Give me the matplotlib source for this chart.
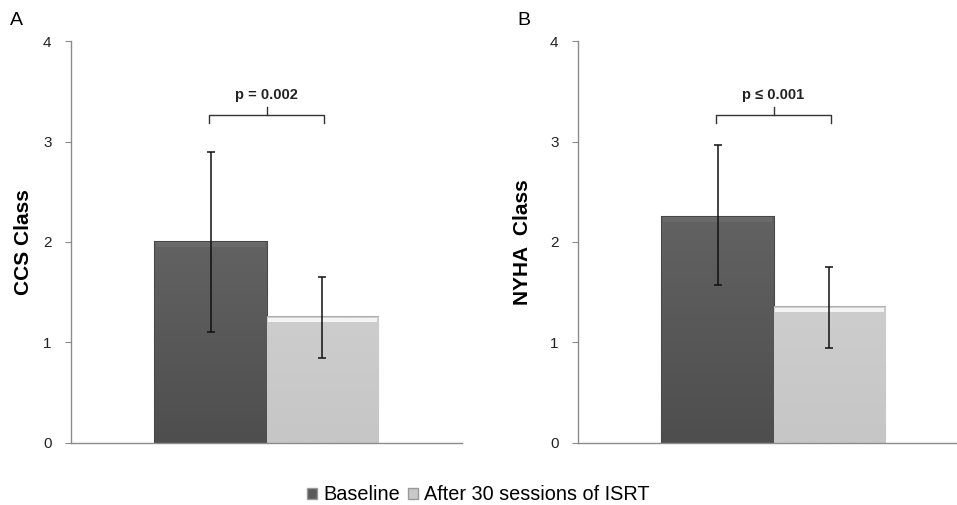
import matplotlib

matplotlib.use("Agg")
import matplotlib.pyplot as plt
import numpy as np
from matplotlib.patches import Patch

# data
groups = ["Baseline", "After 30 sessions of ISRT"]
ccs_mean = [2.0, 1.25]
ccs_lo = [1.1, 0.85]
ccs_hi = [2.9, 1.65]
nyha_mean = [2.25, 1.35]
nyha_lo = [1.57, 0.95]
nyha_hi = [2.97, 1.75]
panels = ["A", "B"]
ylabels = ["CCS Class", "NYHA  Class"]
pvals = ["p = 0.002", "p \u2264 0.001"]
yticks = [0, 1, 2, 3, 4]

DARK = "#5b5b5b"
LIGHT = "#c9c9c9"
EDGES = ["#484848", "#b0b0b0"]
TOPS = ["#6a6a6a", "#f4f4f4"]
GRAD = [("#626262", "#4e4e4e"), ("#cdcdcd", "#c6c6c6")]
SPINE = "#8c8c8c"

plt.rcParams["font.family"] = ["Liberation Sans", "DejaVu Sans"]

fig = plt.figure(figsize=(9.57, 5.05), dpi=100)
ax_w, ax_h, ax_b = 0.4086, 0.796, 0.1228
axes = [fig.add_axes([0.0742, ax_b, ax_w, ax_h]),
        fig.add_axes([0.604, ax_b, ax_w, ax_h])]

width = 0.286
offsets = np.array([-width / 2, width / 2])
series = [(ccs_mean, ccs_lo, ccs_hi), (nyha_mean, nyha_lo, nyha_hi)]
label_x = [-0.097, -0.118]


def shade(ax, bar, top_col, bot_col):
    # vertical gradient clipped to the bar
    x0, y0 = bar.get_x(), bar.get_y()
    w, h = bar.get_width(), bar.get_height()
    c1 = np.array(matplotlib.colors.to_rgb(top_col))
    c2 = np.array(matplotlib.colors.to_rgb(bot_col))
    t = np.linspace(0, 1, 64)[:, None]
    img = (c1 * (1 - t) + c2 * t)[:, None, :]
    im = ax.imshow(img, extent=[x0, x0 + w, y0, y0 + h], aspect="auto",
                   origin="upper", zorder=2.1, interpolation="bilinear")
    im.set_clip_path(bar)


for ax, (mean, lo, hi), letter, ylab, ptxt, lx in zip(axes, series, panels, ylabels, pvals, label_x):
    mean = np.array(mean)
    yerr = np.vstack([mean - np.array(lo), np.array(hi) - mean])
    bars = ax.bar(offsets, mean, width=width, color=[DARK, LIGHT], edgecolor=EDGES,
                  linewidth=1.5, zorder=2)
    for b, (c1, c2) in zip(bars, GRAD):
        shade(ax, b, c1, c2)
    # top bevel highlight
    ax.bar(offsets, [0.045, 0.045], bottom=mean - 0.05, width=width * 0.97,
           color=TOPS, linewidth=0, zorder=3)
    ax.errorbar(offsets, mean, yerr=yerr, fmt="none", ecolor="#111111",
                elinewidth=1.1, capsize=3, capthick=1.1, zorder=4)

    ax.set_xlim(-0.5, 0.5)
    ax.set_ylim(0, 4)
    ax.set_yticks(yticks)
    ax.set_xticks([])
    for s in ("top", "right"):
        ax.spines[s].set_visible(False)
    for s in ("left", "bottom"):
        ax.spines[s].set_color(SPINE)
        ax.spines[s].set_linewidth(1.0)
    ax.tick_params(axis="y", direction="out", length=4, color=SPINE,
                   labelsize=11, labelcolor="#222222", pad=10)
    ax.set_ylabel(ylab, fontsize=15, fontweight="bold")
    ax.yaxis.set_label_coords(lx, 0.5)

    # significance bracket between the two bars
    x1, x2 = offsets[0] - 0.005, offsets[1] + 0.005
    yb, yt = 3.18, 3.26
    xm = (x1 + x2) / 2
    ax.plot([x1, x1, x2, x2], [yb, yt, yt, yb], color="#333333", lw=1.0,
            clip_on=False, zorder=5)
    ax.plot([xm, xm], [yt, yt + 0.08], color="#333333", lw=1.0, zorder=5)
    ax.text(xm, yt + 0.13, ptxt, ha="center", va="bottom", fontsize=10.5,
            fontweight="bold", color="#222222")

    ax.text(-0.155, 1.03, letter, transform=ax.transAxes, fontsize=14,
            ha="left", va="bottom")

handles = [Patch(facecolor=DARK, edgecolor="#999999"),
           Patch(facecolor=LIGHT, edgecolor="#999999")]
fig.legend(handles, groups, loc="center", bbox_to_anchor=(0.5, 0.02),
           ncol=2, frameon=False, fontsize=14.3, handlelength=0.5,
           handleheight=0.5, handletextpad=0.3, columnspacing=0.4)

fig.savefig("out.png", dpi=100)
